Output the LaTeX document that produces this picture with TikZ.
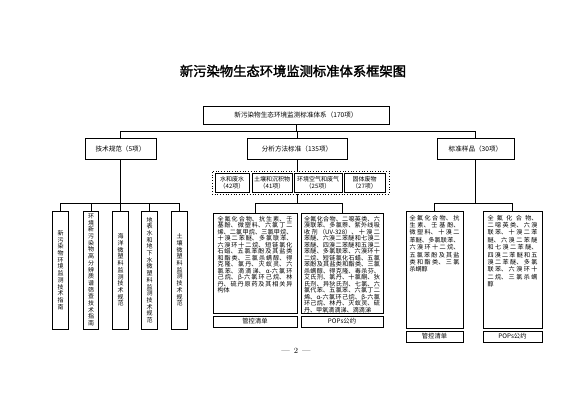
\documentclass[tikz,border=0pt]{standalone}
\usepackage{fontspec}
\newfontfamily\cjk{Noto Sans CJK SC}[AutoFakeBold=2]
\XeTeXlinebreaklocale "zh"
\XeTeXlinebreakskip=0pt plus 3pt
\newcommand{\tbx}[4]{\parbox[c][#2][t]{#1}{\cjk\fontsize{6.1}{#3}\selectfont\parindent=0pt\relax #4}}
\begin{document}
\begin{tikzpicture}[x=1pt,y=-1pt,
  every node/.style={inner sep=0pt, outer sep=0pt},
  cn/.style={line width=0.6pt},
  bx/.style={draw, line width=0.7pt, fill=white, font=\cjk\fontsize{6.6}{8}\selectfont, align=center},
  ib/.style={draw, line width=0.8pt, minimum height=19pt, font=\cjk\fontsize{6}{7.4}\selectfont, align=center},
  vb/.style={draw, line width=0.8pt, minimum width=15.5pt, minimum height=118pt, text width=7pt, font=\cjk\fontsize{6}{6.7}\selectfont, align=center},
  tbox/.style={draw, line width=0.7pt, anchor=north west},
  lb/.style={draw, line width=0.7pt, minimum height=11pt, font=\cjk\fontsize{6.3}{7}\selectfont}
]
\useasboundingbox (0,0) rectangle (585,413);

\node[font=\cjk\bfseries\fontsize{13.3}{16}\selectfont] (title) at (293,71) {新污染物生态环境监测标准体系框架图};

\node[bx, minimum width=186pt, minimum height=18pt] (top) at (296,115) {新污染物生态环境监测标准体系（170项）};

\node[bx, minimum width=71pt, minimum height=21pt] (tech) at (120.5,148.5) {技术规范（5项）};
\node[bx, minimum width=100pt, minimum height=21pt] (anal) at (297,148.5) {分析方法标准（135项）};
\node[bx, minimum width=77pt, minimum height=21pt] (std) at (475.5,148.5) {标准样品（30项）};

\coordinate (h1) at (0,131);
\coordinate (h2) at (0,203);
\draw[cn] (top.south) -- (top.south |- h1);
\draw[cn] (tech.north) -- (tech.north |- h1) -| (std.north);
\draw[cn] (anal.north) -- (anal.north |- h1);

% analysis group
\node[draw, dotted, line width=0.7pt, minimum width=177pt, minimum height=23pt] (grp) at (300.5,182.5) {};
\node[ib, minimum width=34pt] (w1) at (232,182.5) {水和废水\\（42项）};
\node[ib, minimum width=40pt] (w2) at (272,182.5) {土壤和沉积物\\（41项）};
\node[ib, minimum width=48pt] (w3) at (318,182.5) {环境空气和废气\\（25项）};
\node[ib, minimum width=41pt] (w4) at (364.5,182.5) {固体废物\\（27项）};
\draw[cn] (anal.south) -- (anal.south |- grp.north);
\draw[cn] (anal.south |- grp.south) -- (anal.south |- h2);

\node[tbox, inner xsep=4.5pt, inner ysep=3pt] (mA) at (213,213) {\tbx{75pt}{94pt}{6.5}{%
全氟化合物、抗生素、壬\linebreak
基酚、微塑料、六氯丁二\linebreak
烯、二氯甲烷、三氯甲烷、\linebreak
十溴二苯醚、多氯联苯、\linebreak
六溴环十二烷、短链氯化\linebreak
石蜡、五氯苯酚及其盐类\linebreak
和酯类、三氯杀螨醇、得\linebreak
克隆、氯丹、灭蚁灵、六\linebreak
氯苯、滴滴涕、α-六氯环\linebreak
己烷、β-六氯环己烷、林\linebreak
丹、硫丹原药及其相关异\linebreak
构体}};
\node[tbox, inner xsep=3pt, inner ysep=3pt] (mB) at (301,213) {\tbx{76pt}{94pt}{6.5}{%
全氟化合物、二噁英类、六\linebreak
溴联苯、多氯萘、紫外线吸\linebreak
收剂（UV-328）、十溴二\linebreak
苯醚、六溴二苯醚和七溴二\linebreak
苯醚、四溴二苯醚和五溴二\linebreak
苯醚、多氯联苯、六溴环十\linebreak
二烷、短链氯化石蜡、五氯\linebreak
苯酚及其盐类和酯类、三氯\linebreak
杀螨醇、得克隆、毒杀芬、\linebreak
艾氏剂、氯丹、十氯酮、狄\linebreak
氏剂、异狄氏剂、七氯、六\linebreak
氯代苯、五氯苯、六氯丁二\linebreak
烯、α-六氯环己烷、β-六氯\linebreak
环己烷、林丹、灭蚁灵、硫\linebreak
丹、甲氧滴滴涕、滴滴涕}};
\draw[cn] (mA.north) -- (mA.north |- h2) -| (mB.north);

\node[lb, minimum width=84pt] (lA) at (255,321.5) {管控清单};
\node[lb, minimum width=82pt] (lB) at (342,321.5) {POPs公约};

% standard samples
\node[tbox, inner xsep=3.5pt, inner ysep=4pt] (rA) at (406,211) {\tbx{50pt}{109pt}{7.4}{%
全氟化合物、抗\linebreak
生素、壬基酚、\linebreak
微塑料、十溴二\linebreak
苯醚、多氯联苯、\linebreak
六溴环十二烷、\linebreak
五氯苯酚及其盐\linebreak
类和酯类、三氯\linebreak
杀螨醇}};
\node[tbox, inner xsep=4.5pt, inner ysep=4pt] (rB) at (483,211) {\tbx{50pt}{109pt}{7.4}{%
全氟化合物、\linebreak
二噁英类、六溴\linebreak
联苯、十溴二苯\linebreak
醚、六溴二苯醚\linebreak
和七溴二苯醚、\linebreak
四溴二苯醚和五\linebreak
溴二苯醚、多氯\linebreak
联苯、六溴环十\linebreak
二烷、三氯杀螨\linebreak
醇}};
\draw[cn] (std.south) -- (std.south |- h2);
\draw[cn] (rA.north) -- (rA.north |- h2) -| (rB.north);

\node[lb, minimum width=57pt] (lC) at (434.5,336.5) {管控清单};
\node[lb, minimum width=59pt] (lD) at (512.5,336.5) {POPs公约};

% technical specifications
\node[vb] (v1) at (60.5,270) {新\\污\\染\\物\\环\\境\\监\\测\\技\\术\\指\\南};
\node[vb] (v2) at (91,270) {环\\境\\新\\污\\染\\物\\高\\分\\辨\\质\\谱\\筛\\查\\技\\术\\指\\南};
\node[vb] (v3) at (120.5,270) {海\\洋\\微\\塑\\料\\监\\测\\技\\术\\规\\范};
\node[vb] (v4) at (149.5,270) {地\\表\\水\\和\\地\\下\\水\\微\\塑\\料\\监\\测\\技\\术\\规\\范};
\node[vb] (v5) at (179.5,270) {土\\壤\\微\\塑\\料\\监\\测\\技\\术\\规\\范};
\draw[cn] (tech.south) -- (tech.south |- h2);
\draw[cn] (v1.north) -- (v1.north |- h2) -| (v5.north);
\draw[cn] (v2.north) -- (v2.north |- h2);
\draw[cn] (v3.north) -- (v3.north |- h2);
\draw[cn] (v4.north) -- (v4.north |- h2);

\node[font=\fontsize{8}{9}\selectfont] (pg) at (296,351) {—\enspace 2\enspace —};
\end{tikzpicture}
\end{document}
